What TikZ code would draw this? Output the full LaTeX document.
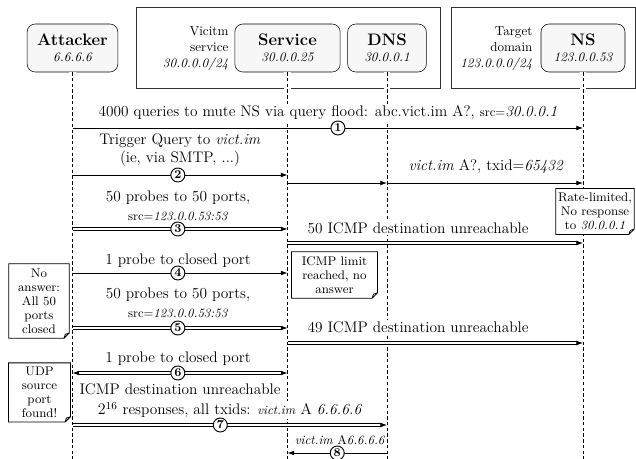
\documentclass[tikz,border=0pt]{standalone}
\usepackage{tikz}
\usetikzlibrary{positioning,arrows.meta}

\newcommand{\msgfont}{\fontsize{11.5}{14}\selectfont}
\newcommand{\srcfont}{\fontsize{9.5}{11}\selectfont}
\newcommand{\notefont}{\fontsize{9.4}{10.5}\selectfont}
\newcommand{\actorname}[1]{{\bfseries\fontsize{12.5}{14}\selectfont #1}}
\newcommand{\actorip}[1]{{\fontsize{9.8}{11}\selectfont\itshape #1}}

\tikzset{
  actor/.style={rectangle, rounded corners=6pt, draw, fill=black!3, minimum height=36pt, inner sep=2pt, align=center},
  zone/.style={draw, black!80, line width=0.6pt},
  zonetag/.style={anchor=east, align=right, inner sep=1pt, font=\fontsize{9.8}{12}\selectfont},
  lifeline/.style={dash pattern=on 2.5pt off 1.8pt, line width=0.6pt,
                   preaction={draw, white, solid, line width=5pt}}, % cuts the zone frames
  msg/.style={-{Latex[length=5pt,width=3.6pt]}, line width=0.6pt},
  bulk/.style={msg, double, double distance=1.4pt},
  msglabel/.style={fill=white, inner sep=1pt, align=center, font=\msgfont},
  stepnum/.style={circle, draw, fill=white, line width=0.7pt, inner sep=0pt, minimum size=10.5pt, font=\bfseries\small},
  notebox/.style={fill=white, inner sep=1pt, align=center, font=\notefont},
}

\begin{document}
\begin{tikzpicture}[x=0.75pt, y=-0.75pt]
  \useasboundingbox (0,0) rectangle (636,459);

  % zones
  \draw[zone] (136,7) rectangle (440,88);
  \draw[zone] (451,7) rectangle (635,88);
  \node[zonetag] (victimtag) at (230,49) {Vicitm\\service\\\textit{30.0.0.0/24}};
  \node[zonetag] (targettag) at (534,49) {Target\\domain\\\textit{123.0.0.0/24}};

  % participants
  \node[actor, minimum width=68pt] (attacker) at (72.5,48) {\actorname{Attacker}\\\actorip{6.6.6.6}};
  \node[actor, minimum width=79pt] (service) at (287.5,48) {\actorname{Service}\\\actorip{30.0.0.25}};
  \node[actor, minimum width=59pt] (dns) at (387,48) {\actorname{DNS}\\\actorip{30.0.0.1}};
  \node[actor, minimum width=63pt] (ns) at (583,48) {\actorname{NS}\\\actorip{123.0.0.53}};

  \coordinate (floor) at (0,459);
  \foreach \p in {attacker, service, dns, ns}
    \draw[lifeline] (\p.south) -- (\p |- floor);

  % notes
  \node[notebox, minimum width=58.5pt, minimum height=34pt] (ratenote) at (595,211.5) {Rate-limited,\\No response\\to \textit{30.0.0.1}};
  \node[notebox, minimum width=64pt, minimum height=34.5pt] (icmpnote) at (334.5,275) {ICMP limit\\reached, no\\answer};
  \node[notebox, minimum width=45pt, minimum height=55.5pt] (closednote) at (39,301) {No\\answer:\\All 50\\ports\\closed};
  \node[notebox, minimum width=46pt, minimum height=44pt] (udpnote) at (39.5,392.5) {UDP\\source\\port\\found!};
  \foreach \n in {ratenote, icmpnote, closednote, udpnote}
    \draw[line width=0.6pt] (\n.north west) -- (\n.north east) -- ([yshift=4pt]\n.south east)
      -- ([xshift=-4pt]\n.south east) -- (\n.south west) -- cycle
      ([xshift=-4pt]\n.south east) -- ([xshift=-3pt,yshift=3pt]\n.south east) -- ([yshift=4pt]\n.south east);

  % message levels
  \coordinate (m1) at (0,128);
  \coordinate (m2) at (0,175);
  \coordinate (m2b) at (0,183);
  \coordinate (m3) at (0,229);
  \coordinate (m3b) at (0,243);
  \coordinate (m4) at (0,273);
  \coordinate (m5) at (0,328);
  \coordinate (m5b) at (0,343);
  \coordinate (m6) at (0,373);
  \coordinate (m7) at (0,425);
  \coordinate (m8) at (0,453);

  % 1: mute NS
  \node[msglabel] (l1) at (328,113) {4000 queries to mute NS via query flood: abc.vict.im A?, {\srcfont src=}\textit{30.0.0.1}};
  \draw[msg] (attacker |- m1) -- (ns |- m1) node[stepnum, pos=0.52] (s1) {1};

  % 2: trigger query
  \node[msglabel] (l2) at (180,150) {Trigger Query to \textit{vict.im}\\(ie, via SMTP, ...)};
  \draw[msg] (attacker |- m2) -- (service |- m2) node[stepnum, pos=0.49] (s2) {2};
  \node[msglabel] (l2b) at (486,167) {\textit{vict.im} A?, txid=\textit{65432}};
  \draw[msg] (service |- m2b) -- (dns |- m2b);
  \draw[msg] (dns |- m2b) -- (ns |- m2b);

  % 3: 50 probes
  \node[msglabel] (l3) at (178,206) {50 probes to 50 ports,\\{\srcfont src=\textit{123.0.0.53:53}}};
  \draw[bulk] (attacker |- m3) -- (service |- m3) node[stepnum, pos=0.49] (s3) {3};
  \node[msglabel] (l3b) at (418,228) {50 ICMP destination unreachable};
  \draw[bulk] (service |- m3b) -- (ns |- m3b);

  % 4: closed port
  \node[msglabel] (l4) at (178,261) {1 probe to closed port};
  \draw[msg] (attacker |- m4) -- (service |- m4) node[stepnum, pos=0.49] (s4) {4};

  % 5: 50 probes again
  \node[msglabel] (l5) at (178,303) {50 probes to 50 ports,\\{\srcfont src=\textit{123.0.0.53:53}}};
  \draw[bulk] (attacker |- m5) -- (service |- m5) node[stepnum, pos=0.49] (s5) {5};
  \node[msglabel] (l5b) at (418,327) {49 ICMP destination unreachable};
  \draw[bulk] (service |- m5b) -- (ns |- m5b);

  % 6: closed port, answered
  \node[msglabel] (l6) at (178,359) {1 probe to closed port};
  \node[msglabel] (l6b) at (180,389) {ICMP destination unreachable};
  \draw[bulk, {Latex[length=5pt,width=3.6pt]}-{Latex[length=5pt,width=3.6pt]}] (attacker |- m6) -- (service |- m6) node[stepnum, pos=0.49] (s6) {6};

  % 7: spoofed responses
  \node[msglabel] (l7) at (230,410) {$2^{16}$ responses, all txids: {\srcfont\textit{vict.im}} A \textit{6.6.6.6}};
  \draw[bulk] (attacker |- m7) -- (dns |- m7) node[stepnum, pos=0.47] (s7) {7};

  % 8: poisoned answer
  \node[msglabel, font=\srcfont] (l8) at (340,440) {\textit{vict.im} A\textit{6.6.6.6}};
  \draw[msg] (dns |- m8) -- (service |- m8) node[stepnum, pos=0.5] (s8) {8};
\end{tikzpicture}
\end{document}
